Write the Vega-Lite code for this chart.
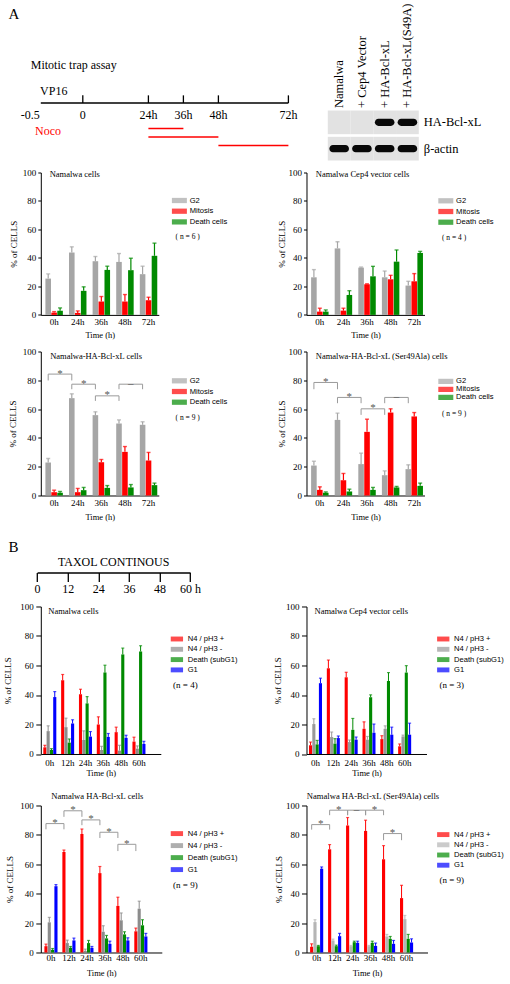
{
"$schema":"https://vega.github.io/schema/vega-lite/v6.json",
"padding":{"left":3.8,"top":2.5,"right":0,"bottom":0},
"background":"white",
"columns":2,
"bounds":"flush",
"align":"each",
"spacing":{"row":0,"column":16.7},
"config":{
 "view":{"stroke":null},
 "font":"Liberation Serif",
 "axis":{"labelFont":"Liberation Serif","titleFont":"Liberation Serif","labelColor":"#000","titleColor":"#000","domainColor":"#000","tickColor":"#000","titleFontWeight":"normal","grid":false},
 "legend":{"labelFont":"Liberation Sans","labelColor":"#000","titleFont":"Liberation Serif","titleFontWeight":"normal","titleColor":"#000","padding":0},
 "text":{"font":"Liberation Serif","color":"#000"},
 "title":{"font":"Liberation Serif","fontWeight":"normal","color":"#000"}
},
"resolve":{"scale":{"x":"independent","y":"independent","color":"independent","xOffset":"independent"},"axis":{"x":"independent","y":"independent"},"legend":{"color":"independent"}},
"datasets":{
 "tl_ticks":[{"t":0,"label":"0"},{"t":24,"label":"24h"},{"t":36,"label":"36h"},{"t":48,"label":"48h"},{"t":72,"label":"72h"}],
 "noco":[{"start":24,"end":36,"lane":3},{"start":24,"end":48,"lane":4},{"start":48,"end":72,"lane":5}],
 "blot":[
  {"lane":"Namalwa","protein":"HA-Bcl-xL","signal":0},{"lane":"+ Cep4 Vector","protein":"HA-Bcl-xL","signal":0},{"lane":"+ HA-Bcl-xL","protein":"HA-Bcl-xL","signal":1},{"lane":"+ HA-Bcl-xL(S49A)","protein":"HA-Bcl-xL","signal":1},
  {"lane":"Namalwa","protein":"β-actin","signal":1},{"lane":"+ Cep4 Vector","protein":"β-actin","signal":1},{"lane":"+ HA-Bcl-xL","protein":"β-actin","signal":1},{"lane":"+ HA-Bcl-xL(S49A)","protein":"β-actin","signal":1}],
 "a1l":[
  {"time":"0h","series":"G2","mean":25.5,"upper":28.8},{"time":"0h","series":"Mitosis","mean":1.6,"upper":2.3},{"time":"0h","series":"Death cells","mean":3.0,"upper":4.9},
  {"time":"24h","series":"G2","mean":43.8,"upper":47.8},{"time":"24h","series":"Mitosis","mean":1.4,"upper":2.8},{"time":"24h","series":"Death cells","mean":16.9,"upper":19.7},
  {"time":"36h","series":"G2","mean":37.7,"upper":41.0},{"time":"36h","series":"Mitosis","mean":9.4,"upper":12.9},{"time":"36h","series":"Death cells","mean":31.6,"upper":34.2},
  {"time":"48h","series":"G2","mean":37.2,"upper":43.1},{"time":"48h","series":"Mitosis","mean":9.4,"upper":14.3},{"time":"48h","series":"Death cells","mean":31.4,"upper":39.8},
  {"time":"72h","series":"G2","mean":28.6,"upper":34.2},{"time":"72h","series":"Mitosis","mean":10.3,"upper":12.4},{"time":"72h","series":"Death cells","mean":41.5,"upper":50.4}],
 "a1r":[
  {"time":"0h","series":"G2","mean":26.4,"upper":31.8},{"time":"0h","series":"Mitosis","mean":2.3,"upper":4.7},{"time":"0h","series":"Death cells","mean":2.3,"upper":3.5},
  {"time":"24h","series":"G2","mean":46.7,"upper":51.4},{"time":"24h","series":"Mitosis","mean":3.0,"upper":4.7},{"time":"24h","series":"Death cells","mean":14.0,"upper":17.0},
  {"time":"36h","series":"G2","mean":33.2,"upper":33.6},{"time":"36h","series":"Mitosis","mean":21.5,"upper":21.8},{"time":"36h","series":"Death cells","mean":27.1,"upper":34.1},
  {"time":"48h","series":"G2","mean":26.4,"upper":30.8},{"time":"48h","series":"Mitosis","mean":25.0,"upper":27.8},{"time":"48h","series":"Death cells","mean":37.4,"upper":45.6},
  {"time":"72h","series":"G2","mean":20.6,"upper":23.6},{"time":"72h","series":"Mitosis","mean":23.6,"upper":29.0},{"time":"72h","series":"Death cells","mean":43.5,"upper":44.6}],
 "a2l":[
  {"time":"0h","series":"G2","mean":22.9,"upper":25.7},{"time":"0h","series":"Mitosis","mean":2.3,"upper":3.7},{"time":"0h","series":"Death cells","mean":1.9,"upper":2.8},
  {"time":"24h","series":"G2","mean":67.6,"upper":70.6},{"time":"24h","series":"Mitosis","mean":2.3,"upper":4.9},{"time":"24h","series":"Death cells","mean":3.7,"upper":5.6},
  {"time":"36h","series":"G2","mean":55.8,"upper":58.1},{"time":"36h","series":"Mitosis","mean":23.1,"upper":25.0},{"time":"36h","series":"Death cells","mean":5.3,"upper":6.9},
  {"time":"48h","series":"G2","mean":50.0,"upper":52.5},{"time":"48h","series":"Mitosis","mean":30.3,"upper":34.0},{"time":"48h","series":"Death cells","mean":5.6,"upper":7.6},
  {"time":"72h","series":"G2","mean":49.1,"upper":51.2},{"time":"72h","series":"Mitosis","mean":24.3,"upper":29.9},{"time":"72h","series":"Death cells","mean":7.2,"upper":8.6}],
 "a2r":[
  {"time":"0h","series":"G2","mean":20.8,"upper":23.8},{"time":"0h","series":"Mitosis","mean":3.9,"upper":6.0},{"time":"0h","series":"Death cells","mean":1.9,"upper":2.5},
  {"time":"24h","series":"G2","mean":52.5,"upper":57.2},{"time":"24h","series":"Mitosis","mean":10.6,"upper":15.3},{"time":"24h","series":"Death cells","mean":2.8,"upper":4.4},
  {"time":"36h","series":"G2","mean":21.8,"upper":29.4},{"time":"36h","series":"Mitosis","mean":44.2,"upper":53.0},{"time":"36h","series":"Death cells","mean":3.9,"upper":5.6},
  {"time":"48h","series":"G2","mean":14.1,"upper":17.1},{"time":"48h","series":"Mitosis","mean":57.6,"upper":60.2},{"time":"48h","series":"Death cells","mean":5.6,"upper":6.3},
  {"time":"72h","series":"G2","mean":18.3,"upper":21.3},{"time":"72h","series":"Mitosis","mean":54.9,"upper":57.6},{"time":"72h","series":"Death cells","mean":6.7,"upper":8.6}],
 "a2l_br":[
  {"b":1,"o":1,"time":"0h","y":79.9,"s":"G2"},{"b":1,"o":2,"time":"0h","y":84.3,"s":"G2"},{"b":1,"o":3,"time":"24h","y":84.3,"s":"G2"},{"b":1,"o":4,"time":"24h","y":79.9,"s":"G2"},
  {"b":2,"o":1,"time":"24h","y":73.8,"s":"G2"},{"b":2,"o":2,"time":"24h","y":77.3,"s":"G2"},{"b":2,"o":3,"time":"36h","y":77.3,"s":"G2"},{"b":2,"o":4,"time":"36h","y":73.8,"s":"G2"},
  {"b":3,"o":1,"time":"36h","y":65.7,"s":"G2"},{"b":3,"o":2,"time":"36h","y":69.2,"s":"G2"},{"b":3,"o":3,"time":"48h","y":69.2,"s":"G2"},{"b":3,"o":4,"time":"48h","y":65.7,"s":"G2"},
  {"b":4,"o":1,"time":"48h","y":73.8,"s":"G2"},{"b":4,"o":2,"time":"48h","y":77.3,"s":"G2"},{"b":4,"o":3,"time":"72h","y":77.3,"s":"G2"},{"b":4,"o":4,"time":"72h","y":73.8,"s":"G2"}],
 "a2l_sig":[{"time":"0h","y":84.3,"s":"Death cells","sig":"*"},{"time":"24h","y":77.3,"s":"Death cells","sig":"*"},{"time":"36h","y":69.2,"s":"Death cells","sig":"*"},{"time":"48h","y":77.3,"s":"Death cells","sig":"–"}],
 "a2r_br":[
  {"b":1,"o":1,"time":"0h","y":73.8,"s":"G2"},{"b":1,"o":2,"time":"0h","y":78.5,"s":"G2"},{"b":1,"o":3,"time":"24h","y":78.5,"s":"G2"},{"b":1,"o":4,"time":"24h","y":73.8,"s":"G2"},
  {"b":2,"o":1,"time":"24h","y":64.1,"s":"G2"},{"b":2,"o":2,"time":"24h","y":68.1,"s":"G2"},{"b":2,"o":3,"time":"36h","y":68.1,"s":"G2"},{"b":2,"o":4,"time":"36h","y":64.1,"s":"G2"},
  {"b":3,"o":1,"time":"36h","y":56.0,"s":"G2"},{"b":3,"o":2,"time":"36h","y":60.2,"s":"G2"},{"b":3,"o":3,"time":"48h","y":60.2,"s":"G2"},{"b":3,"o":4,"time":"48h","y":56.0,"s":"G2"},
  {"b":4,"o":1,"time":"48h","y":64.1,"s":"G2"},{"b":4,"o":2,"time":"48h","y":68.1,"s":"G2"},{"b":4,"o":3,"time":"72h","y":68.1,"s":"G2"},{"b":4,"o":4,"time":"72h","y":64.1,"s":"G2"}],
 "a2r_sig":[{"time":"0h","y":78.5,"s":"Death cells","sig":"*"},{"time":"24h","y":68.1,"s":"Death cells","sig":"*"},{"time":"36h","y":60.2,"s":"Death cells","sig":"*"},{"time":"48h","y":68.1,"s":"Death cells","sig":"–"}],
 "b1l":[
  {"time":"0h","series":"N4 / pH3 +","mean":4.5,"upper":5.9},{"time":"0h","series":"N4 / pH3 -","mean":15.5,"upper":19.1},{"time":"0h","series":"Death (subG1)","mean":2.7,"upper":3.6},{"time":"0h","series":"G1","mean":38.6,"upper":42.3},
  {"time":"12h","series":"N4 / pH3 +","mean":50.0,"upper":53.9},{"time":"12h","series":"N4 / pH3 -","mean":18.2,"upper":24.3},{"time":"12h","series":"Death (subG1)","mean":7.7,"upper":10.2},{"time":"12h","series":"G1","mean":20.7,"upper":23.2},
  {"time":"24h","series":"N4 / pH3 +","mean":40.5,"upper":43.9},{"time":"24h","series":"N4 / pH3 -","mean":9.5,"upper":15.7},{"time":"24h","series":"Death (subG1)","mean":34.3,"upper":38.9},{"time":"24h","series":"G1","mean":11.8,"upper":15.2},
  {"time":"36h","series":"N4 / pH3 +","mean":20.0,"upper":25.2},{"time":"36h","series":"N4 / pH3 -","mean":2.7,"upper":5.2},{"time":"36h","series":"Death (subG1)","mean":55.2,"upper":60.2},{"time":"36h","series":"G1","mean":11.6,"upper":13.9},
  {"time":"48h","series":"N4 / pH3 +","mean":14.8,"upper":18.2},{"time":"48h","series":"N4 / pH3 -","mean":2.3,"upper":5.9},{"time":"48h","series":"Death (subG1)","mean":67.5,"upper":71.8},{"time":"48h","series":"G1","mean":10.9,"upper":12.7},
  {"time":"60h","series":"N4 / pH3 +","mean":8.4,"upper":11.4},{"time":"60h","series":"N4 / pH3 -","mean":3.6,"upper":5.5},{"time":"60h","series":"Death (subG1)","mean":69.5,"upper":73.4},{"time":"60h","series":"G1","mean":6.8,"upper":8.6}],
 "b1r":[
  {"time":"0h","series":"N4 / pH3 +","mean":5.9,"upper":8.1},{"time":"0h","series":"N4 / pH3 -","mean":20.3,"upper":23.9},{"time":"0h","series":"Death (subG1)","mean":6.5,"upper":9.2},{"time":"0h","series":"G1","mean":48.0,"upper":51.4},
  {"time":"12h","series":"N4 / pH3 +","mean":58.1,"upper":63.7},{"time":"12h","series":"N4 / pH3 -","mean":11.5,"upper":14.9},{"time":"12h","series":"Death (subG1)","mean":7.0,"upper":10.4},{"time":"12h","series":"G1","mean":10.8,"upper":12.2},
  {"time":"24h","series":"N4 / pH3 +","mean":52.0,"upper":55.4},{"time":"24h","series":"N4 / pH3 -","mean":8.1,"upper":9.5},{"time":"24h","series":"Death (subG1)","mean":16.4,"upper":24.1},{"time":"24h","series":"G1","mean":9.7,"upper":11.5},
  {"time":"36h","series":"N4 / pH3 +","mean":17.1,"upper":21.8},{"time":"36h","series":"N4 / pH3 -","mean":9.7,"upper":11.9},{"time":"36h","series":"Death (subG1)","mean":38.5,"upper":40.1},{"time":"36h","series":"G1","mean":14.4,"upper":20.3},
  {"time":"48h","series":"N4 / pH3 +","mean":10.1,"upper":12.4},{"time":"48h","series":"N4 / pH3 -","mean":17.1,"upper":19.1},{"time":"48h","series":"Death (subG1)","mean":49.5,"upper":55.2},{"time":"48h","series":"G1","mean":13.1,"upper":18.2},
  {"time":"60h","series":"N4 / pH3 +","mean":5.2,"upper":6.8},{"time":"60h","series":"N4 / pH3 -","mean":11.9,"upper":12.8},{"time":"60h","series":"Death (subG1)","mean":55.2,"upper":59.9},{"time":"60h","series":"G1","mean":13.1,"upper":20.9}],
 "b2l":[
  {"time":"0h","series":"N4 / pH3 +","mean":4.3,"upper":5.7},{"time":"0h","series":"N4 / pH3 -","mean":20.5,"upper":23.9},{"time":"0h","series":"Death (subG1)","mean":1.8,"upper":2.7},{"time":"0h","series":"G1","mean":45.1,"upper":46.2},
  {"time":"12h","series":"N4 / pH3 +","mean":68.3,"upper":69.7},{"time":"12h","series":"N4 / pH3 -","mean":6.4,"upper":8.4},{"time":"12h","series":"Death (subG1)","mean":3.2,"upper":4.1},{"time":"12h","series":"G1","mean":8.2,"upper":9.8},
  {"time":"24h","series":"N4 / pH3 +","mean":80.6,"upper":84.0},{"time":"24h","series":"N4 / pH3 -","mean":1.1,"upper":2.3},{"time":"24h","series":"Death (subG1)","mean":6.4,"upper":8.2},{"time":"24h","series":"G1","mean":3.2,"upper":4.1},
  {"time":"36h","series":"N4 / pH3 +","mean":54.0,"upper":58.5},{"time":"36h","series":"N4 / pH3 -","mean":14.1,"upper":18.2},{"time":"36h","series":"Death (subG1)","mean":9.6,"upper":11.6},{"time":"36h","series":"G1","mean":5.9,"upper":7.7},
  {"time":"48h","series":"N4 / pH3 +","mean":31.7,"upper":37.6},{"time":"48h","series":"N4 / pH3 -","mean":21.9,"upper":26.9},{"time":"48h","series":"Death (subG1)","mean":12.3,"upper":14.1},{"time":"48h","series":"G1","mean":8.2,"upper":10.0},
  {"time":"60h","series":"N4 / pH3 +","mean":14.4,"upper":16.6},{"time":"60h","series":"N4 / pH3 -","mean":29.8,"upper":34.9},{"time":"60h","series":"Death (subG1)","mean":18.5,"upper":22.3},{"time":"60h","series":"G1","mean":10.9,"upper":13.0}],
 "b2r":[
  {"time":"0h","series":"N4 / pH3 +","mean":3.9,"upper":5.9},{"time":"0h","series":"N4 / pH3 -","mean":20.7,"upper":22.3},{"time":"0h","series":"Death (subG1)","mean":4.3,"upper":4.8},{"time":"0h","series":"G1","mean":57.0,"upper":58.2},
  {"time":"12h","series":"N4 / pH3 +","mean":70.2,"upper":73.4},{"time":"12h","series":"N4 / pH3 -","mean":8.2,"upper":9.1},{"time":"12h","series":"Death (subG1)","mean":4.3,"upper":5.0},{"time":"12h","series":"G1","mean":11.1,"upper":13.0},
  {"time":"24h","series":"N4 / pH3 +","mean":86.4,"upper":91.8},{"time":"24h","series":"N4 / pH3 -","mean":4.3,"upper":4.8},{"time":"24h","series":"Death (subG1)","mean":7.0,"upper":7.7},{"time":"24h","series":"G1","mean":6.6,"upper":7.7},
  {"time":"36h","series":"N4 / pH3 +","mean":82.7,"upper":90.0},{"time":"36h","series":"N4 / pH3 -","mean":4.3,"upper":4.8},{"time":"36h","series":"Death (subG1)","mean":6.6,"upper":7.7},{"time":"36h","series":"G1","mean":4.5,"upper":6.4},
  {"time":"48h","series":"N4 / pH3 +","mean":63.4,"upper":72.7},{"time":"48h","series":"N4 / pH3 -","mean":10.9,"upper":12.3},{"time":"48h","series":"Death (subG1)","mean":9.3,"upper":10.9},{"time":"48h","series":"G1","mean":5.9,"upper":8.2},
  {"time":"60h","series":"N4 / pH3 +","mean":37.0,"upper":45.7},{"time":"60h","series":"N4 / pH3 -","mean":22.7,"upper":25.2},{"time":"60h","series":"Death (subG1)","mean":9.3,"upper":12.3},{"time":"60h","series":"G1","mean":6.8,"upper":9.3}],
 "b2l_br":[
  {"b":1,"o":1,"time":"0h","y":83.8,"s":"N4 / pH3 +"},{"b":1,"o":2,"time":"0h","y":87.7,"s":"N4 / pH3 +"},{"b":1,"o":3,"time":"12h","y":87.7,"s":"N4 / pH3 +"},{"b":1,"o":4,"time":"12h","y":83.8,"s":"N4 / pH3 +"},
  {"b":2,"o":1,"time":"12h","y":92.3,"s":"N4 / pH3 +"},{"b":2,"o":2,"time":"12h","y":96.4,"s":"N4 / pH3 +"},{"b":2,"o":3,"time":"24h","y":96.4,"s":"N4 / pH3 +"},{"b":2,"o":4,"time":"24h","y":92.3,"s":"N4 / pH3 +"},
  {"b":3,"o":1,"time":"24h","y":86.6,"s":"N4 / pH3 +"},{"b":3,"o":2,"time":"24h","y":90.2,"s":"N4 / pH3 +"},{"b":3,"o":3,"time":"36h","y":90.2,"s":"N4 / pH3 +"},{"b":3,"o":4,"time":"36h","y":86.6,"s":"N4 / pH3 +"},
  {"b":4,"o":1,"time":"36h","y":77.9,"s":"N4 / pH3 +"},{"b":4,"o":2,"time":"36h","y":81.8,"s":"N4 / pH3 +"},{"b":4,"o":3,"time":"48h","y":81.8,"s":"N4 / pH3 +"},{"b":4,"o":4,"time":"48h","y":77.9,"s":"N4 / pH3 +"},
  {"b":5,"o":1,"time":"48h","y":69.0,"s":"N4 / pH3 +"},{"b":5,"o":2,"time":"48h","y":73.6,"s":"N4 / pH3 +"},{"b":5,"o":3,"time":"60h","y":73.6,"s":"N4 / pH3 +"},{"b":5,"o":4,"time":"60h","y":69.0,"s":"N4 / pH3 +"}],
 "b2l_sig":[{"time":"0h","y":87.7,"s":"G1","sig":"*"},{"time":"12h","y":96.4,"s":"G1","sig":"*"},{"time":"24h","y":90.2,"s":"G1","sig":"*"},{"time":"36h","y":81.8,"s":"G1","sig":"*"},{"time":"48h","y":73.6,"s":"G1","sig":"*"}],
 "b2r_br":[
  {"b":1,"o":1,"time":"0h","y":83.6,"s":"N4 / pH3 +"},{"b":1,"o":2,"time":"0h","y":87.0,"s":"N4 / pH3 +"},{"b":1,"o":3,"time":"12h","y":87.0,"s":"N4 / pH3 +"},{"b":1,"o":4,"time":"12h","y":83.6,"s":"N4 / pH3 +"},
  {"b":2,"o":1,"time":"12h","y":93.4,"s":"N4 / pH3 +"},{"b":2,"o":2,"time":"12h","y":96.8,"s":"N4 / pH3 +"},{"b":2,"o":3,"time":"24h","y":96.8,"s":"N4 / pH3 +"},{"b":2,"o":4,"time":"24h","y":93.4,"s":"N4 / pH3 +"},
  {"b":3,"o":1,"time":"24h","y":93.4,"s":"N4 / pH3 +"},{"b":3,"o":2,"time":"24h","y":96.8,"s":"N4 / pH3 +"},{"b":3,"o":3,"time":"36h","y":96.8,"s":"N4 / pH3 +"},{"b":3,"o":4,"time":"36h","y":93.4,"s":"N4 / pH3 +"},
  {"b":4,"o":1,"time":"36h","y":93.4,"s":"N4 / pH3 +"},{"b":4,"o":2,"time":"36h","y":96.8,"s":"N4 / pH3 +"},{"b":4,"o":3,"time":"48h","y":96.8,"s":"N4 / pH3 +"},{"b":4,"o":4,"time":"48h","y":93.4,"s":"N4 / pH3 +"},
  {"b":5,"o":1,"time":"48h","y":76.4,"s":"N4 / pH3 +"},{"b":5,"o":2,"time":"48h","y":80.9,"s":"N4 / pH3 +"},{"b":5,"o":3,"time":"60h","y":80.9,"s":"N4 / pH3 +"},{"b":5,"o":4,"time":"60h","y":76.4,"s":"N4 / pH3 +"}],
 "b2r_sig":[{"time":"0h","y":87.0,"s":"G1","sig":"*"},{"time":"12h","y":96.8,"s":"G1","sig":"*"},{"time":"24h","y":96.8,"s":"G1","sig":"–"},{"time":"36h","y":96.8,"s":"G1","sig":"*"},{"time":"48h","y":80.9,"s":"G1","sig":"*"}]
},
"concat":[
 {"width":248.3,"height":51,
  "layer":[
   {"data":{"values":[{"from":-0.5,"to":72}]},"mark":{"type":"rule","strokeWidth":1.3,"color":"#000"},
    "encoding":{"x":{"field":"from","type":"quantitative","scale":{"domain":[-0.5,0,24,72],"range":[0,42,107.6,247.6],"zero":false,"nice":false},"axis":null},"x2":{"field":"to"},
                "y":{"datum":0,"type":"quantitative","scale":{"domain":[-1,5],"reverse":true,"zero":false,"nice":false},"axis":null}}},
   {"data":{"name":"tl_ticks"},"mark":{"type":"rule","strokeWidth":1.3,"color":"#000"},
    "encoding":{"x":{"field":"t","type":"quantitative"},"y":{"datum":0,"type":"quantitative"},"y2":{"datum":-0.9}}},
   {"data":{"name":"tl_ticks"},"mark":{"type":"text","fontSize":12,"baseline":"middle"},
    "encoding":{"x":{"field":"t","type":"quantitative"},"y":{"datum":1.46,"type":"quantitative"},"text":{"field":"label"}}},
   {"data":{"values":[{"t":-0.5,"label":"-0.5"}]},"mark":{"type":"text","fontSize":12,"baseline":"middle","align":"right","dx":-1},
    "encoding":{"x":{"field":"t","type":"quantitative"},"y":{"datum":1.46,"type":"quantitative"},"text":{"field":"label"}}},
   {"data":{"name":"noco"},"mark":{"type":"rule","strokeWidth":1.3,"color":"#ff0000"},
    "encoding":{"x":{"field":"start","type":"quantitative"},"x2":{"field":"end"},"y":{"field":"lane","type":"quantitative"}}},
   {"data":{"values":[{"t":-0.5,"lane":-4.42,"label":"Mitotic trap assay"}]},"mark":{"type":"text","fontSize":12,"align":"left","baseline":"middle","dx":-10},
    "encoding":{"x":{"field":"t","type":"quantitative"},"y":{"field":"lane","type":"quantitative"},"text":{"field":"label"}}},
   {"data":{"values":[{"t":-0.5,"lane":-1.36,"label":"VP16"}]},"mark":{"type":"text","fontSize":12,"align":"left","baseline":"middle","dx":-0.7},
    "encoding":{"x":{"field":"t","type":"quantitative"},"y":{"field":"lane","type":"quantitative"},"text":{"field":"label"}}},
   {"data":{"values":[{"t":-0.5,"lane":3.34,"label":"Noco"}]},"mark":{"type":"text","fontSize":12,"align":"left","baseline":"middle","dx":-5.7,"color":"#ff0000"},
    "encoding":{"x":{"field":"t","type":"quantitative"},"y":{"field":"lane","type":"quantitative"},"text":{"field":"label"}}},
   {"data":{"values":[{"t":-0.5,"lane":-10.5,"label":"A"}]},"mark":{"type":"text","fontSize":15,"align":"left","baseline":"middle","dx":-32.4},
    "encoding":{"x":{"field":"t","type":"quantitative"},"y":{"field":"lane","type":"quantitative"},"text":{"field":"label"}}}
  ]},
 {"width":112.3,"height":51,"data":{"name":"blot"},
  "layer":[
   {"mark":{"type":"rect","color":"#e2e2e2"},
    "encoding":{"x":{"field":"lane","type":"nominal","scale":{"domain":["Namalwa","+ Cep4 Vector","+ HA-Bcl-xL","+ HA-Bcl-xL(S49A)"],"range":[21.3,112.3],"paddingInner":0,"paddingOuter":0},
                     "axis":{"orient":"top","title":null,"labelAngle":-90,"ticks":false,"domain":false,"labelFontSize":12.5,"labelPadding":1,"offset":-14,"labelLimit":0}},
                "y":{"field":"protein","type":"nominal","scale":{"domain":["HA-Bcl-xL","β-actin"],"range":[16,66],"paddingInner":0.1,"paddingOuter":0},
                     "axis":{"orient":"right","title":null,"ticks":false,"domain":false,"labelFontSize":12.5,"labelPadding":4.5}}}},
   {"transform":[{"filter":"datum.signal > 0"}],"mark":{"type":"rect","color":"#080808","cornerRadius":4,"width":{"band":0.86},"height":{"band":0.3}},
    "encoding":{"x":{"field":"lane","type":"nominal"},"y":{"field":"protein","type":"nominal"}}}
  ]},
 {"width":10,"height":26.5,"data":{"values":[]},"mark":"point"},
 {"width":10,"height":26.5,"data":{"values":[]},"mark":"point"},
 {"width":118,"height":142.4,
  "layer":[
   {"data":{"name":"a1l"},"mark":{"type":"bar"},
    "encoding":{
     "x":{"field":"time","type":"nominal","scale":{"domain":["0h","24h","36h","48h","72h"],"paddingInner":0.26,"paddingOuter":0.13,"align":0.75},"axis":{"title":"Time (h)","labelAngle":0,"ticks":false,"labelFontSize":9,"labelPadding":2.5,"titleFontSize":8.5,"titlePadding":4}},
     "xOffset":{"field":"series","type":"nominal","scale":{"domain":["G2","Mitosis","Death cells"],"paddingInner":0.06}},
     "y":{"field":"mean","type":"quantitative","scale":{"domain":[0,100],"nice":false},"axis":{"title":"% of CELLS","values":[0,20,40,60,80,100],"tickCount":20,"labelOverlap":false,"tickSize":3,"labelFontSize":9,"labelPadding":2,"titleFontSize":9,"titlePadding":4}},
     "color":{"field":"series","type":"nominal","scale":{"domain":["G2","Mitosis","Death cells"],"range":["#a6a6a6","#ff0000","#008a00"]},
      "legend":{"title":"( n = 6 )","titleOrient":"bottom","titleAnchor":"start","orient":"none","legendX":134.8,"legendY":24.2,"symbolType":"M-2.5,-0.875H2.5V0.875H-2.5Z","symbolSize":36,"symbolStrokeWidth":0,"labelFontSize":7.6,"labelOffset":6.5,"rowPadding":1.7,"titleFontSize":7.5,"titlePadding":7.6}}}},
   {"data":{"name":"a1l"},"mark":{"type":"rule","strokeWidth":1.2},"encoding":{"x":{"field":"time","type":"nominal"},"xOffset":{"field":"series","type":"nominal"},"y":{"field":"mean","type":"quantitative"},"y2":{"field":"upper"},"color":{"field":"series","type":"nominal"}}},
   {"data":{"name":"a1l"},"mark":{"type":"tick","thickness":1.4,"size":4},"encoding":{"x":{"field":"time","type":"nominal"},"xOffset":{"field":"series","type":"nominal"},"y":{"field":"upper","type":"quantitative"},"color":{"field":"series","type":"nominal"}}},
   {"data":{"values":[{"name":"Namalwa cells"}]},"mark":{"type":"text","align":"left","baseline":"middle","fontSize":8.5,"dx":-4.5},"encoding":{"x":{"datum":"0h","type":"nominal"},"y":{"datum":99,"type":"quantitative"},"text":{"field":"name"}}}
  ]},
 {"width":118,"height":142.4,
  "layer":[
   {"data":{"name":"a1r"},"mark":{"type":"bar"},
    "encoding":{
     "x":{"field":"time","type":"nominal","scale":{"domain":["0h","24h","36h","48h","72h"],"paddingInner":0.26,"paddingOuter":0.13,"align":0.75},"axis":{"title":"Time (h)","labelAngle":0,"ticks":false,"labelFontSize":9,"labelPadding":2.5,"titleFontSize":8.5,"titlePadding":4}},
     "xOffset":{"field":"series","type":"nominal","scale":{"domain":["G2","Mitosis","Death cells"],"paddingInner":0.06}},
     "y":{"field":"mean","type":"quantitative","scale":{"domain":[0,100],"nice":false},"axis":{"title":"% of CELLS","values":[0,20,40,60,80,100],"tickCount":20,"labelOverlap":false,"tickSize":3,"labelFontSize":9,"labelPadding":2,"titleFontSize":9,"titlePadding":1.5}},
     "color":{"field":"series","type":"nominal","scale":{"domain":["G2","Mitosis","Death cells"],"range":["#a6a6a6","#ff0000","#008a00"]},
      "legend":{"title":"( n = 4 )","titleOrient":"bottom","titleAnchor":"start","orient":"none","legendX":135.5,"legendY":24.5,"symbolType":"M-2.5,-0.875H2.5V0.875H-2.5Z","symbolSize":36,"symbolStrokeWidth":0,"labelFontSize":7.6,"labelOffset":6.5,"rowPadding":1.7,"titleFontSize":7.5,"titlePadding":7.6}}}},
   {"data":{"name":"a1r"},"mark":{"type":"rule","strokeWidth":1.2},"encoding":{"x":{"field":"time","type":"nominal"},"xOffset":{"field":"series","type":"nominal"},"y":{"field":"mean","type":"quantitative"},"y2":{"field":"upper"},"color":{"field":"series","type":"nominal"}}},
   {"data":{"name":"a1r"},"mark":{"type":"tick","thickness":1.4,"size":4},"encoding":{"x":{"field":"time","type":"nominal"},"xOffset":{"field":"series","type":"nominal"},"y":{"field":"upper","type":"quantitative"},"color":{"field":"series","type":"nominal"}}},
   {"data":{"values":[{"name":"Namalwa Cep4 vector cells"}]},"mark":{"type":"text","align":"left","baseline":"middle","fontSize":8.5,"dx":-4},"encoding":{"x":{"datum":"0h","type":"nominal"},"y":{"datum":99,"type":"quantitative"},"text":{"field":"name"}}}
  ]},
 {"width":10,"height":36,"data":{"values":[]},"mark":"point"},
 {"width":10,"height":36,"data":{"values":[]},"mark":"point"},
 {"width":118,"height":144,
  "layer":[
   {"data":{"name":"a2l"},"mark":{"type":"bar"},
    "encoding":{
     "x":{"field":"time","type":"nominal","scale":{"domain":["0h","24h","36h","48h","72h"],"paddingInner":0.26,"paddingOuter":0.13,"align":0.75},"axis":{"title":"Time (h)","labelAngle":0,"ticks":false,"labelFontSize":9,"labelPadding":3,"titleFontSize":8.5,"titlePadding":5}},
     "xOffset":{"field":"series","type":"nominal","scale":{"domain":["G2","Mitosis","Death cells"],"paddingInner":0.06}},
     "y":{"field":"mean","type":"quantitative","scale":{"domain":[0,100],"nice":false},"axis":{"title":"% of CELLS","values":[0,20,40,60,80,100],"tickCount":20,"labelOverlap":false,"tickSize":3,"labelFontSize":9,"labelPadding":2,"titleFontSize":9,"titlePadding":4.5}},
     "color":{"field":"series","type":"nominal","scale":{"domain":["G2","Mitosis","Death cells"],"range":["#a6a6a6","#ff0000","#008a00"]},
      "legend":{"title":"( n = 9 )","titleOrient":"bottom","titleAnchor":"start","orient":"none","legendX":134.8,"legendY":25.5,"symbolType":"M-2.5,-0.875H2.5V0.875H-2.5Z","symbolSize":36,"symbolStrokeWidth":0,"labelFontSize":7.6,"labelOffset":6.5,"rowPadding":1.7,"titleFontSize":7.5,"titlePadding":7.6}}}},
   {"data":{"name":"a2l"},"mark":{"type":"rule","strokeWidth":1.2},"encoding":{"x":{"field":"time","type":"nominal"},"xOffset":{"field":"series","type":"nominal"},"y":{"field":"mean","type":"quantitative"},"y2":{"field":"upper"},"color":{"field":"series","type":"nominal"}}},
   {"data":{"name":"a2l"},"mark":{"type":"tick","thickness":1.4,"size":4},"encoding":{"x":{"field":"time","type":"nominal"},"xOffset":{"field":"series","type":"nominal"},"y":{"field":"upper","type":"quantitative"},"color":{"field":"series","type":"nominal"}}},
   {"data":{"name":"a2l_br"},"mark":{"type":"line","color":"#9a9a9a","strokeWidth":1},"encoding":{"x":{"field":"time","type":"nominal"},"xOffset":{"field":"s","type":"nominal"},"y":{"field":"y","type":"quantitative"},"detail":{"field":"b","type":"nominal"},"order":{"field":"o","type":"quantitative"}}},
   {"data":{"name":"a2l_sig"},"mark":{"type":"text","fontSize":11,"color":"#555","baseline":"alphabetic","dy":2.5},"encoding":{"x":{"field":"time","type":"nominal"},"xOffset":{"field":"s","type":"nominal"},"y":{"field":"y","type":"quantitative"},"text":{"field":"sig"}}},
   {"data":{"values":[{"name":"Namalwa-HA-Bcl-xL cells"}]},"mark":{"type":"text","align":"left","baseline":"middle","fontSize":8.5,"dx":-4},"encoding":{"x":{"datum":"0h","type":"nominal"},"y":{"datum":97,"type":"quantitative"},"text":{"field":"name"}}}
  ]},
 {"width":118,"height":144,
  "layer":[
   {"data":{"name":"a2r"},"mark":{"type":"bar"},
    "encoding":{
     "x":{"field":"time","type":"nominal","scale":{"domain":["0h","24h","36h","48h","72h"],"paddingInner":0.26,"paddingOuter":0.13,"align":0.75},"axis":{"title":"Time (h)","labelAngle":0,"ticks":false,"labelFontSize":9,"labelPadding":3,"titleFontSize":8.5,"titlePadding":5}},
     "xOffset":{"field":"series","type":"nominal","scale":{"domain":["G2","Mitosis","Death cells"],"paddingInner":0.06}},
     "y":{"field":"mean","type":"quantitative","scale":{"domain":[0,100],"nice":false},"axis":{"title":"% of CELLS","values":[0,20,40,60,80,100],"tickCount":20,"labelOverlap":false,"tickSize":3,"labelFontSize":9,"labelPadding":2,"titleFontSize":9,"titlePadding":1.5}},
     "color":{"field":"series","type":"nominal","scale":{"domain":["G2","Mitosis","Death cells"],"range":["#a6a6a6","#ff0000","#008a00"]},
      "legend":{"title":"( n = 9 )","titleOrient":"bottom","titleAnchor":"start","orient":"none","legendX":135.5,"legendY":26.1,"symbolType":"M-2.5,-0.875H2.5V0.875H-2.5Z","symbolSize":36,"symbolStrokeWidth":0,"labelFontSize":7.6,"labelOffset":6.5,"rowPadding":-1.3,"titleFontSize":7.5,"titlePadding":9.6}}}},
   {"data":{"name":"a2r"},"mark":{"type":"rule","strokeWidth":1.2},"encoding":{"x":{"field":"time","type":"nominal"},"xOffset":{"field":"series","type":"nominal"},"y":{"field":"mean","type":"quantitative"},"y2":{"field":"upper"},"color":{"field":"series","type":"nominal"}}},
   {"data":{"name":"a2r"},"mark":{"type":"tick","thickness":1.4,"size":4},"encoding":{"x":{"field":"time","type":"nominal"},"xOffset":{"field":"series","type":"nominal"},"y":{"field":"upper","type":"quantitative"},"color":{"field":"series","type":"nominal"}}},
   {"data":{"name":"a2r_br"},"mark":{"type":"line","color":"#9a9a9a","strokeWidth":1},"encoding":{"x":{"field":"time","type":"nominal"},"xOffset":{"field":"s","type":"nominal"},"y":{"field":"y","type":"quantitative"},"detail":{"field":"b","type":"nominal"},"order":{"field":"o","type":"quantitative"}}},
   {"data":{"name":"a2r_sig"},"mark":{"type":"text","fontSize":11,"color":"#555","baseline":"alphabetic","dy":2.5},"encoding":{"x":{"field":"time","type":"nominal"},"xOffset":{"field":"s","type":"nominal"},"y":{"field":"y","type":"quantitative"},"text":{"field":"sig"}}},
   {"data":{"values":[{"name":"Namalwa-HA-Bcl-xL (Ser49Ala) cells"}]},"mark":{"type":"text","align":"left","baseline":"middle","fontSize":8.5,"dx":-4},"encoding":{"x":{"datum":"0h","type":"nominal"},"y":{"datum":97,"type":"quantitative"},"text":{"field":"name"}}}
  ]},
 {"width":10,"height":53,"data":{"values":[]},"mark":"point"},
 {"width":10,"height":53,"data":{"values":[]},"mark":"point"},
 {"width":153,"height":24,
  "layer":[
   {"data":{"values":[{"label":"TAXOL CONTINOUS","t":30}]},"mark":{"type":"text","fontSize":12,"baseline":"middle","dy":1.6},
    "encoding":{"x":{"field":"t","type":"quantitative","scale":{"domain":[0,60],"range":[-3.7,149.3],"nice":false,"zero":false},
       "axis":{"orient":"bottom","title":null,"values":[0,12,24,36,48,60],"tickCount":20,"tickSize":9,"tickWidth":1.3,"domainWidth":1.3,"labelFontSize":12,"labelPadding":2,"labelExpr":"datum.value == 60 ? '60 h' : datum.label","labelFlush":false,"labelOverlap":false}},
     "text":{"field":"label"}}},
   {"data":{"values":[{"label":"B","t":0}]},"mark":{"type":"text","fontSize":15,"align":"left","baseline":"middle","dx":-28.7,"dy":-13.7},
    "encoding":{"x":{"field":"t","type":"quantitative"},"text":{"field":"label"}}}
  ]},
 {"width":10,"height":24,"data":{"values":[]},"mark":"point"},
 {"width":10,"height":33.1,"data":{"values":[]},"mark":"point"},
 {"width":10,"height":33.1,"data":{"values":[]},"mark":"point"},
 {"width":120,"height":147.5,
  "layer":[
   {"data":{"name":"b1l"},"mark":{"type":"bar"},
    "encoding":{
     "x":{"field":"time","type":"nominal","scale":{"domain":["0h","12h","24h","36h","48h","60h"],"paddingInner":0.27,"paddingOuter":0.5,"align":0.14},"axis":{"title":"Time (h)","labelAngle":0,"ticks":false,"labelFontSize":9,"labelPadding":5,"titleFontSize":8.5,"titlePadding":1}},
     "xOffset":{"field":"series","type":"nominal","scale":{"domain":["N4 / pH3 +","N4 / pH3 -","Death (subG1)","G1"],"paddingInner":0.06}},
     "y":{"field":"mean","type":"quantitative","scale":{"domain":[0,100],"nice":false},"axis":{"title":"% of CELLS","values":[0,20,40,60,80,100],"tickCount":20,"labelOverlap":false,"tickSize":5,"labelFontSize":9,"labelPadding":2.5,"titleFontSize":9,"titlePadding":7}},
     "color":{"field":"series","type":"nominal","scale":{"domain":["N4 / pH3 +","N4 / pH3 -","Death (subG1)","G1"],"range":["#ff0000","#8c8c8c","#008a00","#0000ff"]},
      "legend":{"title":"(n = 4)","titleOrient":"bottom","titleAnchor":"start","orient":"none","legendX":132.3,"legendY":28.7,"symbolType":"M-2.46,-0.98H2.46V0.98H-2.46Z","symbolSize":25,"symbolStrokeWidth":0,"labelFontSize":7.6,"labelOffset":7,"rowPadding":1.3,"titleFontSize":9,"titlePadding":8}}}},
   {"data":{"name":"b1l"},"mark":{"type":"rule","strokeWidth":1},"encoding":{"x":{"field":"time","type":"nominal"},"xOffset":{"field":"series","type":"nominal"},"y":{"field":"mean","type":"quantitative"},"y2":{"field":"upper"},"color":{"field":"series","type":"nominal"}}},
   {"data":{"name":"b1l"},"mark":{"type":"tick","thickness":1.2,"size":3},"encoding":{"x":{"field":"time","type":"nominal"},"xOffset":{"field":"series","type":"nominal"},"y":{"field":"upper","type":"quantitative"},"color":{"field":"series","type":"nominal"}}},
   {"data":{"values":[{"name":"Namalwa cells"}]},"mark":{"type":"text","align":"left","baseline":"middle","fontSize":8.5,"dx":-1.5},"encoding":{"x":{"datum":"0h","type":"nominal"},"y":{"datum":97.2,"type":"quantitative"},"text":{"field":"name"}}}
  ]},
 {"width":120,"height":147.5,
  "layer":[
   {"data":{"name":"b1r"},"mark":{"type":"bar"},
    "encoding":{
     "x":{"field":"time","type":"nominal","scale":{"domain":["0h","12h","24h","36h","48h","60h"],"paddingInner":0.27,"paddingOuter":0.5,"align":0.14},"axis":{"title":"Time (h)","labelAngle":0,"ticks":false,"labelFontSize":9,"labelPadding":5,"titleFontSize":8.5,"titlePadding":1}},
     "xOffset":{"field":"series","type":"nominal","scale":{"domain":["N4 / pH3 +","N4 / pH3 -","Death (subG1)","G1"],"paddingInner":0.06}},
     "y":{"field":"mean","type":"quantitative","scale":{"domain":[0,100],"nice":false},"axis":{"title":"% of CELLS","values":[0,20,40,60,80,100],"tickCount":20,"labelOverlap":false,"tickSize":5,"labelFontSize":9,"labelPadding":2.5,"titleFontSize":9,"titlePadding":3}},
     "color":{"field":"series","type":"nominal","scale":{"domain":["N4 / pH3 +","N4 / pH3 -","Death (subG1)","G1"],"range":["#ff0000","#999999","#008a00","#0000ff"]},
      "legend":{"title":"(n = 3)","titleOrient":"bottom","titleAnchor":"start","orient":"none","legendX":132.95,"legendY":28.7,"symbolType":"M-2.46,-0.98H2.46V0.98H-2.46Z","symbolSize":25,"symbolStrokeWidth":0,"labelFontSize":7.6,"labelOffset":7,"rowPadding":1.3,"titleFontSize":9,"titlePadding":8}}}},
   {"data":{"name":"b1r"},"mark":{"type":"rule","strokeWidth":1},"encoding":{"x":{"field":"time","type":"nominal"},"xOffset":{"field":"series","type":"nominal"},"y":{"field":"mean","type":"quantitative"},"y2":{"field":"upper"},"color":{"field":"series","type":"nominal"}}},
   {"data":{"name":"b1r"},"mark":{"type":"tick","thickness":1.2,"size":3},"encoding":{"x":{"field":"time","type":"nominal"},"xOffset":{"field":"series","type":"nominal"},"y":{"field":"upper","type":"quantitative"},"color":{"field":"series","type":"nominal"}}},
   {"data":{"values":[{"name":"Namalwa Cep4 vector cells"}]},"mark":{"type":"text","align":"left","baseline":"middle","fontSize":8.5,"dx":-1},"encoding":{"x":{"datum":"0h","type":"nominal"},"y":{"datum":97.2,"type":"quantitative"},"text":{"field":"name"}}}
  ]},
 {"width":10,"height":50.7,"data":{"values":[]},"mark":"point"},
 {"width":10,"height":50.7,"data":{"values":[]},"mark":"point"},
 {"width":121,"height":147,
  "title":{"text":"Namalwa HA-Bcl-xL cells","fontSize":8.6,"anchor":"middle","offset":-8,"baseline":"bottom","dx":-4},
  "layer":[
   {"data":{"name":"b2l"},"mark":{"type":"bar"},
    "encoding":{
     "x":{"field":"time","type":"nominal","scale":{"domain":["0h","12h","24h","36h","48h","60h"],"paddingInner":0.27,"paddingOuter":0.5,"align":0.2},"axis":{"title":"Time (h)","labelAngle":0,"ticks":false,"labelFontSize":9,"labelPadding":1.5,"titleFontSize":8.5,"titlePadding":6}},
     "xOffset":{"field":"series","type":"nominal","scale":{"domain":["N4 / pH3 +","N4 / pH3 -","Death (subG1)","G1"],"paddingInner":0.06}},
     "y":{"field":"mean","type":"quantitative","scale":{"domain":[0,100],"nice":false},"axis":{"title":"% of CELLS","values":[0,20,40,60,80,100],"tickCount":20,"labelOverlap":false,"tickSize":5,"labelFontSize":9,"labelPadding":2.5,"titleFontSize":9,"titlePadding":5}},
     "color":{"field":"series","type":"nominal","scale":{"domain":["N4 / pH3 +","N4 / pH3 -","Death (subG1)","G1"],"range":["#ff0000","#8c8c8c","#008a00","#0000ff"]},
      "legend":{"title":"(n = 9)","titleOrient":"bottom","titleAnchor":"start","orient":"none","legendX":132.3,"legendY":24.3,"symbolType":"M-2.46,-0.98H2.46V0.98H-2.46Z","symbolSize":25,"symbolStrokeWidth":0,"labelFontSize":7.6,"labelOffset":7,"rowPadding":3,"titleFontSize":9,"titlePadding":8.5}}}},
   {"data":{"name":"b2l"},"mark":{"type":"rule","strokeWidth":1},"encoding":{"x":{"field":"time","type":"nominal"},"xOffset":{"field":"series","type":"nominal"},"y":{"field":"mean","type":"quantitative"},"y2":{"field":"upper"},"color":{"field":"series","type":"nominal"}}},
   {"data":{"name":"b2l"},"mark":{"type":"tick","thickness":1.2,"size":3},"encoding":{"x":{"field":"time","type":"nominal"},"xOffset":{"field":"series","type":"nominal"},"y":{"field":"upper","type":"quantitative"},"color":{"field":"series","type":"nominal"}}},
   {"data":{"name":"b2l_br"},"mark":{"type":"line","color":"#9a9a9a","strokeWidth":1},"encoding":{"x":{"field":"time","type":"nominal"},"xOffset":{"field":"s","type":"nominal"},"y":{"field":"y","type":"quantitative"},"detail":{"field":"b","type":"nominal"},"order":{"field":"o","type":"quantitative"}}},
   {"data":{"name":"b2l_sig"},"mark":{"type":"text","fontSize":11,"color":"#555","baseline":"alphabetic","dy":2.5,"dx":-1},"encoding":{"x":{"field":"time","type":"nominal"},"xOffset":{"field":"s","type":"nominal"},"y":{"field":"y","type":"quantitative"},"text":{"field":"sig"}}}
  ]},
 {"width":121,"height":147,
  "title":{"text":"Namalwa  HA-Bcl-xL (Ser49Ala) cells","fontSize":8.6,"anchor":"middle","offset":-8,"baseline":"bottom","dx":6},
  "layer":[
   {"data":{"name":"b2r"},"mark":{"type":"bar"},
    "encoding":{
     "x":{"field":"time","type":"nominal","scale":{"domain":["0h","12h","24h","36h","48h","60h"],"paddingInner":0.27,"paddingOuter":0.5,"align":0.2},"axis":{"title":"Time (h)","labelAngle":0,"ticks":false,"labelFontSize":9,"labelPadding":1.5,"titleFontSize":8.5,"titlePadding":6}},
     "xOffset":{"field":"series","type":"nominal","scale":{"domain":["N4 / pH3 +","N4 / pH3 -","Death (subG1)","G1"],"paddingInner":0.06}},
     "y":{"field":"mean","type":"quantitative","scale":{"domain":[0,100],"nice":false},"axis":{"title":"% of CELLS","values":[0,20,40,60,80,100],"tickCount":20,"labelOverlap":false,"tickSize":5,"labelFontSize":9,"labelPadding":2.5,"titleFontSize":9,"titlePadding":2}},
     "color":{"field":"series","type":"nominal","scale":{"domain":["N4 / pH3 +","N4 / pH3 -","Death (subG1)","G1"],"range":["#ff0000","#b5b5b5","#008a00","#0000ff"]},
      "legend":{"title":"(n = 9)","titleOrient":"bottom","titleAnchor":"start","orient":"none","legendX":132.95,"legendY":25.3,"symbolType":"M-2.46,-0.98H2.46V0.98H-2.46Z","symbolSize":25,"symbolStrokeWidth":0,"labelFontSize":7.6,"labelOffset":7,"rowPadding":1.2,"titleFontSize":9,"titlePadding":7}}}},
   {"data":{"name":"b2r"},"mark":{"type":"rule","strokeWidth":1},"encoding":{"x":{"field":"time","type":"nominal"},"xOffset":{"field":"series","type":"nominal"},"y":{"field":"mean","type":"quantitative"},"y2":{"field":"upper"},"color":{"field":"series","type":"nominal"}}},
   {"data":{"name":"b2r"},"mark":{"type":"tick","thickness":1.2,"size":3},"encoding":{"x":{"field":"time","type":"nominal"},"xOffset":{"field":"series","type":"nominal"},"y":{"field":"upper","type":"quantitative"},"color":{"field":"series","type":"nominal"}}},
   {"data":{"name":"b2r_br"},"mark":{"type":"line","color":"#9a9a9a","strokeWidth":1},"encoding":{"x":{"field":"time","type":"nominal"},"xOffset":{"field":"s","type":"nominal"},"y":{"field":"y","type":"quantitative"},"detail":{"field":"b","type":"nominal"},"order":{"field":"o","type":"quantitative"}}},
   {"data":{"name":"b2r_sig"},"mark":{"type":"text","fontSize":11,"color":"#555","baseline":"alphabetic","dy":2.5,"dx":-1},"encoding":{"x":{"field":"time","type":"nominal"},"xOffset":{"field":"s","type":"nominal"},"y":{"field":"y","type":"quantitative"},"text":{"field":"sig"}}}
  ]}
]
}
